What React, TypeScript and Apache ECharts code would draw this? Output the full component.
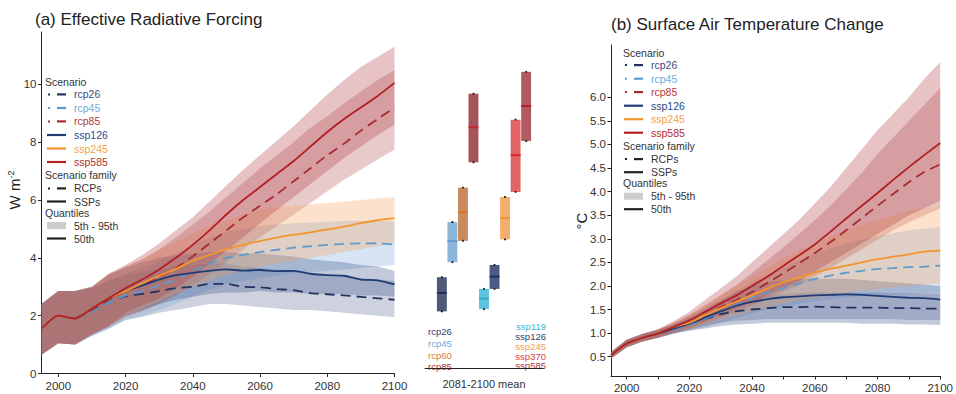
import React, { useEffect, useRef } from 'react';
import * as echarts from 'echarts';

// ---------------- DATA ----------------
const YEARS = [1995, 2000, 2005, 2010, 2015, 2020, 2025, 2030, 2035, 2040, 2045, 2050, 2055, 2060, 2065, 2070, 2075, 2080, 2085, 2090, 2095, 2100];
const RCP_START = 2005;

// (a) Effective radiative forcing, W m-2
const ERF_RCP26_MED = [1.55, 2.0, 1.9, 2.15, 2.45, 2.68, 2.75, 2.85, 2.95, 3.0, 3.1, 3.1, 3.0, 2.98, 2.92, 2.88, 2.78, 2.74, 2.7, 2.65, 2.6, 2.55];
const ERF_RCP26_HI = [2.4, 2.85, 2.85, 2.95, 3.2, 3.4, 3.5, 3.6, 3.7, 3.75, 3.8, 3.8, 3.7, 3.65, 3.6, 3.55, 3.45, 3.4, 3.35, 3.3, 3.25, 3.2];
const ERF_RCP26_LO = [0.65, 1.05, 1.0, 1.3, 1.55, 1.85, 1.95, 2.1, 2.2, 2.3, 2.4, 2.4, 2.35, 2.3, 2.25, 2.2, 2.2, 2.15, 2.1, 2.05, 2.0, 1.95];
const ERF_RCP45_MED = [1.55, 2.0, 1.9, 2.15, 2.45, 2.7, 2.85, 3.05, 3.25, 3.55, 3.8, 4.0, 4.1, 4.2, 4.28, 4.35, 4.4, 4.45, 4.48, 4.5, 4.5, 4.46];
const ERF_RCP45_HI = [2.4, 2.85, 2.85, 2.95, 3.25, 3.45, 3.65, 3.9, 4.15, 4.45, 4.7, 4.9, 5.0, 5.1, 5.15, 5.2, 5.22, 5.25, 5.27, 5.28, 5.28, 5.25];
const ERF_RCP45_LO = [0.65, 1.05, 1.0, 1.3, 1.55, 1.85, 2.0, 2.2, 2.4, 2.65, 2.9, 3.1, 3.2, 3.3, 3.4, 3.45, 3.5, 3.55, 3.6, 3.65, 3.7, 3.75];
const ERF_RCP85_MED = [1.55, 2.0, 1.9, 2.2, 2.55, 2.85, 3.05, 3.35, 3.65, 4.05, 4.5, 4.95, 5.4, 5.8, 6.2, 6.65, 7.1, 7.55, 7.95, 8.4, 8.8, 9.2];
const ERF_RCP85_HI = [2.4, 2.85, 2.85, 3.0, 3.4, 3.7, 3.95, 4.3, 4.7, 5.15, 5.6, 6.1, 6.6, 7.1, 7.55, 8.0, 8.5, 8.9, 9.35, 9.75, 10.15, 10.5];
const ERF_RCP85_LO = [0.65, 1.05, 1.0, 1.35, 1.6, 1.95, 2.15, 2.4, 2.7, 3.05, 3.45, 3.85, 4.3, 4.7, 5.1, 5.5, 5.9, 6.3, 6.7, 7.05, 7.4, 7.75];
const ERF_SSP126_MED = [1.55, 2.0, 1.9, 2.25, 2.6, 2.85, 3.05, 3.25, 3.4, 3.48, 3.55, 3.6, 3.56, 3.58, 3.54, 3.55, 3.45, 3.4, 3.38, 3.25, 3.22, 3.08];
const ERF_SSP126_HI = [2.4, 2.85, 2.85, 3.0, 3.45, 3.65, 3.85, 4.0, 4.1, 4.15, 4.2, 4.2, 4.15, 4.15, 4.1, 4.05, 3.95, 3.9, 3.85, 3.75, 3.7, 3.55];
const ERF_SSP126_LO = [0.65, 1.05, 1.0, 1.35, 1.65, 2.0, 2.2, 2.4, 2.55, 2.65, 2.75, 2.8, 2.8, 2.85, 2.8, 2.8, 2.75, 2.75, 2.75, 2.7, 2.7, 2.65];
const ERF_SSP245_MED = [1.55, 2.0, 1.9, 2.25, 2.6, 2.85, 3.12, 3.38, 3.62, 3.9, 4.1, 4.3, 4.45, 4.58, 4.7, 4.8, 4.88, 4.98, 5.08, 5.2, 5.3, 5.37];
const ERF_SSP245_HI = [2.4, 2.85, 2.85, 3.0, 3.45, 3.7, 3.95, 4.25, 4.55, 4.85, 5.1, 5.3, 5.5, 5.65, 5.75, 5.8, 5.85, 5.9, 5.95, 6.0, 6.05, 6.1];
const ERF_SSP245_LO = [0.65, 1.05, 1.0, 1.35, 1.65, 2.0, 2.25, 2.5, 2.75, 3.0, 3.2, 3.4, 3.55, 3.7, 3.8, 3.9, 4.0, 4.1, 4.2, 4.3, 4.4, 4.55];
const ERF_SSP585_MED = [1.55, 2.0, 1.9, 2.25, 2.6, 2.95, 3.25, 3.6, 4.0, 4.45, 4.95, 5.5, 6.0, 6.45, 6.9, 7.35, 7.85, 8.35, 8.8, 9.2, 9.6, 10.05];
const ERF_SSP585_HI = [2.4, 2.85, 2.85, 3.0, 3.45, 3.75, 4.1, 4.5, 4.95, 5.4, 5.95, 6.5, 7.05, 7.55, 8.05, 8.55, 9.1, 9.65, 10.15, 10.6, 10.95, 11.3];
const ERF_SSP585_LO = [0.65, 1.05, 1.0, 1.35, 1.65, 2.1, 2.35, 2.6, 2.95, 3.35, 3.8, 4.25, 4.7, 5.2, 5.65, 6.1, 6.55, 7.0, 7.45, 7.85, 8.25, 8.6];

// (b) Surface air temperature change, °C
const TAS_RCP26_MED = [0.53, 0.78, 0.9, 0.99, 1.08, 1.2, 1.3, 1.4, 1.46, 1.5, 1.53, 1.55, 1.55, 1.56, 1.55, 1.54, 1.54, 1.54, 1.53, 1.53, 1.52, 1.52];
const TAS_RCP26_HI = [0.6, 0.86, 0.98, 1.07, 1.18, 1.3, 1.45, 1.58, 1.68, 1.75, 1.8, 1.83, 1.85, 1.86, 1.86, 1.86, 1.86, 1.86, 1.85, 1.85, 1.84, 1.84];
const TAS_RCP26_LO = [0.46, 0.7, 0.82, 0.9, 0.98, 1.08, 1.15, 1.22, 1.26, 1.28, 1.3, 1.3, 1.3, 1.3, 1.3, 1.3, 1.3, 1.3, 1.3, 1.28, 1.28, 1.28];
const TAS_RCP45_MED = [0.53, 0.78, 0.9, 0.99, 1.08, 1.17, 1.3, 1.45, 1.6, 1.75, 1.86, 1.95, 2.05, 2.15, 2.22, 2.28, 2.32, 2.36, 2.38, 2.4, 2.41, 2.43];
const TAS_RCP45_HI = [0.6, 0.86, 0.98, 1.07, 1.18, 1.3, 1.48, 1.68, 1.88, 2.08, 2.25, 2.4, 2.55, 2.7, 2.8, 2.9, 2.98, 3.05, 3.12, 3.18, 3.22, 3.25];
const TAS_RCP45_LO = [0.46, 0.7, 0.82, 0.9, 0.98, 1.05, 1.13, 1.22, 1.32, 1.42, 1.5, 1.56, 1.62, 1.68, 1.72, 1.76, 1.78, 1.8, 1.82, 1.83, 1.85, 1.86];
const TAS_RCP85_MED = [0.53, 0.78, 0.9, 0.99, 1.1, 1.22, 1.38, 1.55, 1.7, 1.87, 2.07, 2.27, 2.48, 2.7, 2.93, 3.18, 3.44, 3.7, 3.95, 4.2, 4.42, 4.58];
const TAS_RCP85_HI = [0.6, 0.86, 0.98, 1.07, 1.2, 1.38, 1.58, 1.8, 2.02, 2.28, 2.55, 2.82, 3.1, 3.4, 3.7, 4.05, 4.4, 4.8, 5.15, 5.5, 5.85, 6.2];
const TAS_RCP85_LO = [0.46, 0.7, 0.82, 0.9, 1.0, 1.08, 1.2, 1.32, 1.45, 1.58, 1.72, 1.88, 2.02, 2.2, 2.38, 2.58, 2.78, 2.98, 3.18, 3.35, 3.5, 3.65];
const TAS_SSP126_MED = [0.53, 0.78, 0.9, 0.99, 1.1, 1.2, 1.33, 1.46, 1.58, 1.66, 1.72, 1.76, 1.78, 1.8, 1.81, 1.82, 1.81, 1.79, 1.77, 1.75, 1.74, 1.71];
const TAS_SSP126_HI = [0.6, 0.86, 0.98, 1.07, 1.2, 1.35, 1.52, 1.7, 1.88, 2.0, 2.08, 2.12, 2.14, 2.15, 2.15, 2.15, 2.13, 2.1, 2.08, 2.05, 2.03, 2.0];
const TAS_SSP126_LO = [0.46, 0.7, 0.82, 0.9, 1.0, 1.05, 1.1, 1.15, 1.18, 1.2, 1.22, 1.22, 1.22, 1.22, 1.22, 1.22, 1.2, 1.2, 1.2, 1.18, 1.18, 1.17];
const TAS_SSP245_MED = [0.53, 0.78, 0.9, 0.99, 1.13, 1.22, 1.38, 1.53, 1.67, 1.8, 1.95, 2.08, 2.18, 2.28, 2.36, 2.43, 2.5, 2.57, 2.62, 2.67, 2.73, 2.75];
const TAS_SSP245_HI = [0.6, 0.86, 0.98, 1.08, 1.25, 1.4, 1.6, 1.8, 2.0, 2.2, 2.4, 2.6, 2.75, 2.9, 3.05, 3.2, 3.3, 3.4, 3.5, 3.6, 3.65, 3.72];
const TAS_SSP245_LO = [0.46, 0.7, 0.82, 0.9, 1.02, 1.08, 1.18, 1.28, 1.38, 1.45, 1.55, 1.62, 1.7, 1.75, 1.8, 1.85, 1.9, 1.93, 1.97, 2.0, 2.03, 2.05];
const TAS_SSP585_MED = [0.53, 0.78, 0.9, 0.99, 1.13, 1.27, 1.45, 1.63, 1.8, 2.0, 2.2, 2.43, 2.65, 2.88, 3.15, 3.43, 3.7, 3.97, 4.25, 4.52, 4.78, 5.03];
const TAS_SSP585_HI = [0.6, 0.86, 0.98, 1.08, 1.25, 1.45, 1.7, 1.95, 2.2, 2.5, 2.8, 3.1, 3.4, 3.75, 4.1, 4.5, 4.9, 5.3, 5.65, 6.0, 6.4, 6.75];
const TAS_SSP585_LO = [0.46, 0.7, 0.82, 0.9, 1.02, 1.12, 1.25, 1.4, 1.52, 1.65, 1.8, 1.95, 2.1, 2.3, 2.5, 2.7, 2.9, 3.1, 3.3, 3.5, 3.65, 3.8];

// 2081-2100 mean boxes (ERF)
const BOX_NAMES = ['rcp26', 'rcp45', 'rcp60', 'rcp85', 'ssp119', 'ssp126', 'ssp245', 'ssp370', 'ssp585'];
const BOX_LO = [1.99, 3.72, 4.47, 7.23, 2.07, 2.78, 4.52, 6.19, 7.98];
const BOX_MED = [2.64, 4.46, 5.47, 8.46, 2.44, 3.21, 5.27, 7.48, 9.21];
const BOX_HI = [3.19, 5.13, 6.34, 9.64, 2.78, 3.62, 6.01, 8.73, 10.41];

// tick labels
const ERF_YTICKS = [0, 2, 4, 6, 8, 10];
const TAS_YTICKS = [0.5, 1.0, 1.5, 2.0, 2.5, 3.0, 3.5, 4.0, 4.5, 5.0, 5.5, 6.0];
const XTICKS = [2000, 2020, 2040, 2060, 2080, 2100];
const XTICKS_MINOR = [2000, 2010, 2020, 2030, 2040, 2050, 2060, 2070, 2080, 2090, 2100];

const SCEN_NAMES = ['rcp26', 'rcp45', 'rcp85', 'ssp126', 'ssp245', 'ssp585'];
const SCEN_IS_RCP = [true, true, true, false, false, false];

// ---------------- STYLE ----------------
const LINE_COLORS = ['#22325f', '#5b9bd0', '#a52b30', '#203c74', '#f2952e', '#b21f25'];
const TEXT_COLORS = ['#3b4a7a', '#72abde', '#b23a3a', '#2b4a8a', '#f4a24a', '#b32e2e'];
const BAND_COLORS = [
  'rgba(90,105,145,0.3)',
  'rgba(120,165,215,0.3)',
  'rgba(175,65,70,0.28)',
  'rgba(55,80,135,0.3)',
  'rgba(244,160,90,0.3)',
  'rgba(175,55,65,0.3)',
];
const BOX_FILL = ['#4e5a78', '#8db4d9', '#c98a5e', '#a8535a', '#5ec4df', '#4b5a85', '#f1ae6d', '#e26464', '#b25a62'];
const BOX_MEDC = ['#1f2f55', '#5e9bd0', '#d9732c', '#c3272b', '#36a7cf', '#1e2f60', '#f0962d', '#d6282d', '#b81d22'];
const BOX_TEXT = ['#2c3e6b', '#6fa8dc', '#d9773a', '#b0303a', '#3fb5d5', '#2c3e6b', '#f0a050', '#e03c3c', '#b0303a'];

const FONT = '"Liberation Sans", Arial, sans-serif';
const AX = '#222';
const LBL = '#333';

const ERF_SETS = [
  [ERF_RCP26_MED, ERF_RCP26_LO, ERF_RCP26_HI],
  [ERF_RCP45_MED, ERF_RCP45_LO, ERF_RCP45_HI],
  [ERF_RCP85_MED, ERF_RCP85_LO, ERF_RCP85_HI],
  [ERF_SSP126_MED, ERF_SSP126_LO, ERF_SSP126_HI],
  [ERF_SSP245_MED, ERF_SSP245_LO, ERF_SSP245_HI],
  [ERF_SSP585_MED, ERF_SSP585_LO, ERF_SSP585_HI],
];
const TAS_SETS = [
  [TAS_RCP26_MED, TAS_RCP26_LO, TAS_RCP26_HI],
  [TAS_RCP45_MED, TAS_RCP45_LO, TAS_RCP45_HI],
  [TAS_RCP85_MED, TAS_RCP85_LO, TAS_RCP85_HI],
  [TAS_SSP126_MED, TAS_SSP126_LO, TAS_SSP126_HI],
  [TAS_SSP245_MED, TAS_SSP245_LO, TAS_SSP245_HI],
  [TAS_SSP585_MED, TAS_SSP585_LO, TAS_SSP585_HI],
];

function bandSeries(axis: number, lo: number[], hi: number[], color: string) {
  return {
    type: 'custom',
    xAxisIndex: axis,
    yAxisIndex: axis,
    silent: true,
    z: 1,
    data: [[2050, lo[11]]],
    renderItem: (_p: any, api: any) => {
      const pts: number[][] = [];
      for (let i = 0; i < YEARS.length; i++) pts.push(api.coord([YEARS[i], hi[i]]));
      for (let i = YEARS.length - 1; i >= 0; i--) pts.push(api.coord([YEARS[i], lo[i]]));
      return { type: 'polygon', shape: { points: pts }, style: { fill: color, stroke: 'none' } };
    },
  };
}

function lineSeries(axis: number, med: number[], k: number) {
  const isRcp = SCEN_IS_RCP[k];
  const data = YEARS.map((y, i) => [y, med[i]]).filter((d) => !isRcp || d[0] >= RCP_START);
  return {
    type: 'line',
    xAxisIndex: axis,
    yAxisIndex: axis,
    silent: true,
    z: 3 + k,
    showSymbol: false,
    symbol: 'none',
    smooth: 0.2,
    data,
    lineStyle: { color: LINE_COLORS[k], width: 1.8, type: isRcp ? [10, 6] : 'solid' },
  };
}

function legendGraphics(hx: number, iconX: number, y0: number) {
  const offs = [0, 12.4, 26, 39.4, 53, 66.5, 80, 93, 106.4, 119.5, 130.5, 143.5, 156.5];
  const els: any[] = [];
  const tx = iconX + 27;
  const text = (x: number, y: number, s: string, fill: string) => ({
    type: 'text', x, y, silent: true,
    style: { text: s, fill, fontSize: 10.5, fontFamily: FONT, verticalAlign: 'middle', align: 'left' },
  });
  const icon = (y: number, color: string, dashed: boolean) => {
    if (dashed) {
      els.push({ type: 'line', silent: true, shape: { x1: iconX + 1, y1: y, x2: iconX + 3, y2: y }, style: { stroke: color, lineWidth: 2 } });
      els.push({ type: 'line', silent: true, shape: { x1: iconX + 10, y1: y, x2: iconX + 19, y2: y }, style: { stroke: color, lineWidth: 2.2 } });
    } else {
      els.push({ type: 'line', silent: true, shape: { x1: iconX, y1: y, x2: iconX + 19, y2: y }, style: { stroke: color, lineWidth: 2.2 } });
    }
  };
  els.push(text(hx, y0 + offs[0], 'Scenario', LBL));
  SCEN_NAMES.forEach((n, k) => {
    const y = y0 + offs[k + 1];
    icon(y, LINE_COLORS[k], SCEN_IS_RCP[k]);
    els.push(text(tx, y, n, TEXT_COLORS[k]));
  });
  els.push(text(hx, y0 + offs[7], 'Scenario family', LBL));
  icon(y0 + offs[8], '#222', true);
  els.push(text(tx, y0 + offs[8], 'RCPs', LBL));
  icon(y0 + offs[9], '#222', false);
  els.push(text(tx, y0 + offs[9], 'SSPs', LBL));
  els.push(text(hx, y0 + offs[10], 'Quantiles', LBL));
  els.push({ type: 'rect', silent: true, shape: { x: iconX, y: y0 + offs[11] - 3.5, width: 19, height: 7 }, style: { fill: '#cccccc' } });
  els.push(text(tx, y0 + offs[11], '5th - 95th', LBL));
  icon(y0 + offs[12], '#222', false);
  els.push(text(tx, y0 + offs[12], '50th', LBL));
  return els;
}

function timeXAxis(grid: number, minorTicks: boolean) {
  return {
    type: 'value', gridIndex: grid, min: 1995, max: 2100,
    axisLine: { show: true, onZero: false, lineStyle: { color: AX, width: 1 } },
    axisTick: { show: true, length: 3.5, lineStyle: { color: AX }, customValues: minorTicks ? XTICKS_MINOR : XTICKS },
    axisLabel: { customValues: XTICKS, color: LBL, fontSize: 11.5, fontFamily: FONT, margin: 6, formatter: (v: number) => String(v) },
    splitLine: { show: false },
  };
}

export default function App() {
  const ref = useRef<HTMLDivElement>(null);
  useEffect(() => {
    if (!ref.current) return;
    const chart = echarts.init(ref.current, null, { renderer: 'svg' });

    const series: any[] = [];
    ERF_SETS.forEach((s, k) => series.push(bandSeries(0, s[1], s[2], BAND_COLORS[k])));
    TAS_SETS.forEach((s, k) => series.push(bandSeries(2, s[1], s[2], BAND_COLORS[k])));
    ERF_SETS.forEach((s, k) => series.push(lineSeries(0, s[0], k)));
    TAS_SETS.forEach((s, k) => series.push(lineSeries(2, s[0], k)));
    series.push({
      type: 'custom',
      xAxisIndex: 1,
      yAxisIndex: 1,
      silent: true,
      z: 2,
      encode: { x: 0, y: 1 },
      data: BOX_LO.map((lo, i) => [i, lo, BOX_MED[i], BOX_HI[i]]),
      renderItem: (params: any, api: any) => {
        const idx = params.dataIndex;
        const i = api.value(0);
        const pLo = api.coord([i, api.value(1)]);
        const pMed = api.coord([i, api.value(2)]);
        const pHi = api.coord([i, api.value(3)]);
        const w = api.size([1, 0])[0] * 0.94;
        const cx = pLo[0];
        return {
          type: 'group',
          children: [
            { type: 'rect', shape: { x: cx - w / 2, y: pHi[1], width: w, height: pLo[1] - pHi[1] }, style: { fill: BOX_FILL[idx] } },
            { type: 'line', shape: { x1: cx - w / 2, y1: pMed[1], x2: cx + w / 2, y2: pMed[1] }, style: { stroke: BOX_MEDC[idx], lineWidth: 2 } },
            { type: 'circle', shape: { cx, cy: pHi[1], r: 1.1 }, style: { fill: '#222' } },
            { type: 'circle', shape: { cx, cy: pLo[1], r: 1.1 }, style: { fill: '#222' } },
          ],
        };
      },
    });

    const graphics: any[] = [
      { type: 'text', left: 35, top: 11, silent: true, style: { text: '(a) Effective Radiative Forcing', fill: '#222', fontSize: 17, fontFamily: FONT } },
      { type: 'text', left: 611, top: 16, silent: true, style: { text: '(b) Surface Air Temperature Change', fill: '#222', fontSize: 17, fontFamily: FONT } },
      {
        type: 'text', x: 14, y: 190, rotation: Math.PI / 2, silent: true,
        style: {
          text: 'W m{sup|-2}', fill: '#222', fontSize: 15, fontFamily: FONT, align: 'center', verticalAlign: 'middle',
          rich: { sup: { fontSize: 9, fontFamily: FONT, fill: '#222', verticalAlign: 'top', lineHeight: 16 } },
        },
      },
      {
        type: 'text', x: 581, y: 221, rotation: Math.PI / 2, silent: true,
        style: { text: '°C', fill: '#222', fontSize: 15, fontFamily: FONT, align: 'center', verticalAlign: 'middle' },
      },
      ...legendGraphics(45, 47, 82),
      ...legendGraphics(623, 624, 52.7),
    ];
    const rcpY = [331.7, 343.3, 355, 366.3];
    const sspY = [326.7, 336.5, 346.2, 356, 365.7];
    BOX_NAMES.forEach((n, i) => {
      const isR = n.startsWith('rcp');
      const y = isR ? rcpY[i] : sspY[i - 4];
      graphics.push({
        type: 'text', x: isR ? 428 : 546, y, silent: true,
        style: { text: n, fill: BOX_TEXT[i], fontSize: 9.5, fontFamily: FONT, align: isR ? 'left' : 'right', verticalAlign: 'middle' },
      });
    });

    chart.setOption({
      animation: false,
      backgroundColor: '#ffffff',
      grid: [
        { left: 41.5, top: 32, width: 353, height: 341.5 },
        { left: 425, top: 32, width: 118, height: 341.5 },
        { left: 611, top: 45, width: 342, height: 332.7 },
      ],
      xAxis: [
        timeXAxis(0, false),
        {
          type: 'value', gridIndex: 1, min: -1.6, max: 9.6,
          axisLine: { show: true, onZero: false, lineStyle: { color: AX, width: 1 } },
          axisTick: { show: false }, axisLabel: { show: false }, splitLine: { show: false },
          name: '2081-2100 mean', nameLocation: 'middle', nameGap: 10,
          nameTextStyle: { color: LBL, fontSize: 11, fontFamily: FONT },
        },
        timeXAxis(2, true),
      ],
      yAxis: [
        {
          type: 'value', gridIndex: 0, min: 0, max: 11.81,
          axisLine: { show: true, onZero: false, lineStyle: { color: AX, width: 1 } },
          axisTick: { show: true, length: 3.5, lineStyle: { color: AX }, customValues: ERF_YTICKS },
          axisLabel: { customValues: ERF_YTICKS, color: LBL, fontSize: 11.5, fontFamily: FONT, margin: 5 },
          splitLine: { show: false },
        },
        { type: 'value', gridIndex: 1, min: 0, max: 11.81, show: false, splitLine: { show: false } },
        {
          type: 'value', gridIndex: 2, min: 0.09, max: 7.11,
          axisLine: { show: true, onZero: false, lineStyle: { color: AX, width: 1 } },
          axisTick: { show: true, length: 3.5, lineStyle: { color: AX }, customValues: TAS_YTICKS },
          axisLabel: {
            customValues: TAS_YTICKS, color: LBL, fontSize: 11.5, fontFamily: FONT, margin: 5,
            formatter: (v: number) => v.toFixed(1),
          },
          splitLine: { show: false },
        },
      ],
      graphic: graphics,
      series,
    });
    return () => chart.dispose();
  }, []);
  return <div ref={ref} style={{ position: 'absolute', left: 0, top: 0, width: 956, height: 394, background: '#fff' }} />;
}
